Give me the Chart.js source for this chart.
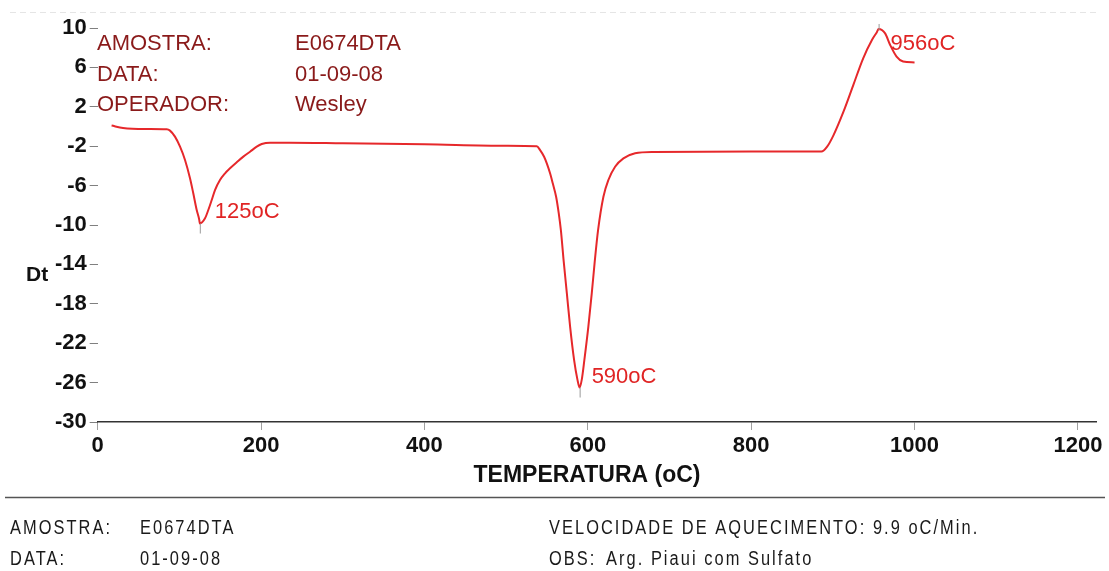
<!DOCTYPE html>
<html>
<head>
<meta charset="utf-8">
<script src="https://cdn.jsdelivr.net/npm/chart.js@4.4.1/dist/chart.umd.min.js"></script>
<style>
  html, body { margin: 0; padding: 0; background: #ffffff; }
  #wrap { position: relative; width: 1109px; height: 571px; }
  canvas { display: block; }
</style>
</head>
<body>
<div id="wrap"><canvas id="dta" width="1109" height="571"></canvas></div>
<script>
// DTA curve: temperature (oC) against Dt
const temperature = [
  17, 31, 60, 84.5, 88.5, 94.6, 100.8, 106.9, 113, 117, 121.2, 124.4, 125,
  131.4, 135.4, 139.6, 143.6, 149.7, 155.9, 162, 170.2, 178.3, 186.5, 194.7, 200.8, 211, 235,
  300, 400, 500, 537.5, 541.6, 546.5, 549.8, 553.8, 557.1, 561.2, 564.4, 567, 570.5,
  574.3, 578.3, 583.2, 587.3, 590, 592.6, 595.8, 600.7, 604.9, 608.5, 612.6, 619.1,
  625.2, 633.4, 643.6, 657.9, 680.3, 800, 886, 893, 901, 913, 925, 937, 948, 954, 956,
  964, 970, 978, 986, 1000
];
const dt = [
  0.1, -0.15, -0.25, -0.28, -0.42, -1.03, -2.05, -3.4, -5.26, -6.78, -8.48, -9.5, -9.85,
  -9.32, -8.48, -7.46, -6.45, -5.43, -4.75, -4.24, -3.63, -3.06, -2.56, -2.05, -1.78, -1.64, -1.64,
  -1.7, -1.8, -1.95, -2.0, -2.4, -3.07, -3.74, -4.75, -5.77, -7.13, -8.8, -10.5, -13.7,
  -16.9, -20.3, -23.7, -25.7, -26.5, -25.7, -23.7, -20.3, -16.9, -13.7, -10.5, -7.13,
  -5.43, -4.08, -3.23, -2.72, -2.59, -2.55, -2.55, -2.05, -0.85, 1.5, 4.2, 6.9, 8.8, 9.6, 9.9,
  9.45, 8.3, 7.1, 6.6, 6.5
];

// Marked peaks
const peakTemps = [125, 590, 956];
const peakDt = [-9.85, -26.5, 9.9];

// Axis ticks
const xTickValues = [0, 200, 400, 600, 800, 1000, 1200];
const yTickValues = [10, 6, 2, -2, -6, -10, -14, -18, -22, -26, -30];

// Header and footer text
const headerKeys = ['AMOSTRA:', 'DATA:', 'OPERADOR:'];
const headerValues = ['E0674DTA', '01-09-08', 'Wesley'];
const footerLeftKeys = ['AMOSTRA:', 'DATA:'];
const footerLeftValues = ['E0674DTA', '01-09-08'];
const footerRightKeys = ['VELOCIDADE DE AQUECIMENTO: 9.9 oC/Min.', 'OBS:'];
const footerRightValues = ['', 'Arg. Piaui com Sulfato'];
const xTitle = 'TEMPERATURA (oC)';
const yTitle = 'Dt';

const SANS = '"Liberation Sans", Arial, sans-serif';

const curvePoints = temperature.map((t, i) => ({ x: t, y: dt[i] }));

// label offsets relative to each peak (px): above-right for minima, below-right for the maximum
const peakLabelOffsets = [[15, -6], [12, -5], [12, 21]];
const peakMarkDir = [1, 1, -1];

// condensed footer lettering: regular face squeezed horizontally
function drawCondensed(ctx, text, x, y, sx) {
  ctx.save();
  ctx.translate(x, y);
  ctx.scale(sx, 1);
  ctx.fillText(text, 0, 0);
  ctx.restore();
}

const decor = {
  id: 'decor',
  afterDraw(chart) {
    const { ctx, scales } = chart;
    const xs = scales.x, ys = scales.y;
    ctx.save();

    // faint rule along the top
    ctx.strokeStyle = 'rgba(0,0,0,0.10)';
    ctx.setLineDash([6, 4]);
    ctx.lineWidth = 1;
    ctx.beginPath(); ctx.moveTo(10, 12.5); ctx.lineTo(1100, 12.5); ctx.stroke();
    ctx.setLineDash([]);

    // header block
    ctx.fillStyle = '#8a1a1a';
    ctx.font = '22px ' + SANS;
    ctx.textBaseline = 'alphabetic';
    ctx.textAlign = 'left';
    headerKeys.forEach((k, i) => {
      const yb = 50 + i * 30.5;
      ctx.fillText(k, 97, yb);
      ctx.fillText(headerValues[i], 295, yb);
    });

    // peak markers and labels
    peakTemps.forEach((t, i) => {
      const px = xs.getPixelForValue(t);
      const py = ys.getPixelForValue(peakDt[i]);
      ctx.strokeStyle = '#9a9a9a';
      ctx.lineWidth = 1;
      ctx.beginPath();
      if (peakMarkDir[i] > 0) { ctx.moveTo(px + 0.5, py); ctx.lineTo(px + 0.5, py + 10); }
      else { ctx.moveTo(px + 0.5, py - 5); ctx.lineTo(px + 0.5, py + 1); }
      ctx.stroke();
      ctx.fillStyle = '#e02424';
      ctx.font = '22px ' + SANS;
      ctx.fillText(t + 'oC', px + peakLabelOffsets[i][0], py + peakLabelOffsets[i][1]);
    });

    // axis titles
    ctx.fillStyle = '#111111';
    ctx.font = 'bold 21px ' + SANS;
    ctx.fillText(yTitle, 26, 281);
    ctx.font = 'bold 23px ' + SANS;
    ctx.textAlign = 'center';
    ctx.fillText(xTitle, 587, 482);
    ctx.textAlign = 'left';

    // separator
    ctx.strokeStyle = '#555555';
    ctx.lineWidth = 1.5;
    ctx.beginPath(); ctx.moveTo(5, 497.5); ctx.lineTo(1105, 497.5); ctx.stroke();

    // footer block
    ctx.fillStyle = '#1a1a1a';
    ctx.font = '20px ' + SANS;
    ctx.letterSpacing = '2.5px';
    const sx = 0.82;
    footerLeftKeys.forEach((k, i) => {
      const yb = 534 + i * 31;
      drawCondensed(ctx, k, 10, yb, sx);
      drawCondensed(ctx, footerLeftValues[i], 140, yb, sx);
    });
    footerRightKeys.forEach((k, i) => {
      const yb = 534 + i * 31;
      drawCondensed(ctx, k, 549, yb, sx);
      if (footerRightValues[i]) drawCondensed(ctx, footerRightValues[i], 606, yb, sx);
    });
    ctx.letterSpacing = '0px';
    ctx.restore();
  }
};

new Chart(document.getElementById('dta'), {
  type: 'line',
  data: {
    datasets: [{
      data: curvePoints,
      borderColor: '#e6282b',
      borderWidth: 2,
      pointRadius: 0,
      fill: false,
      cubicInterpolationMode: 'monotone',
      clip: false
    }]
  },
  options: {
    responsive: false,
    animation: false,
    devicePixelRatio: 1,
    layout: { padding: { top: 28, right: 12.3, bottom: 85, left: 0 } },
    plugins: { legend: { display: false }, tooltip: { enabled: false } },
    scales: {
      x: {
        type: 'linear',
        min: 0,
        max: 1223,
        afterBuildTicks: (s) => { s.ticks = xTickValues.map(v => ({ value: v })); },
        afterFit: (s) => { s.height = 64; },
        grid: { drawOnChartArea: false, drawTicks: true, tickLength: 8, color: '#a0a0a0' },
        border: { display: true, color: '#333333', width: 1.5 },
        ticks: {
          maxRotation: 0,
          padding: 3,
          color: '#111111',
          font: { family: SANS, size: 22, weight: 'bold' },
          callback: (v) => String(v)
        }
      },
      y: {
        type: 'linear',
        min: -30,
        max: 10,
        afterBuildTicks: (s) => { s.ticks = yTickValues.map(v => ({ value: v })); },
        afterFit: (s) => { s.width = 97.7; },
        grid: { drawOnChartArea: false, drawTicks: true, tickLength: 8, color: '#808080' },
        border: { display: false },
        ticks: {
          padding: 3,
          color: '#111111',
          font: { family: SANS, size: 22, weight: 'bold' },
          callback: (v) => String(v)
        }
      }
    }
  },
  plugins: [decor]
});
</script>
</body>
</html>
